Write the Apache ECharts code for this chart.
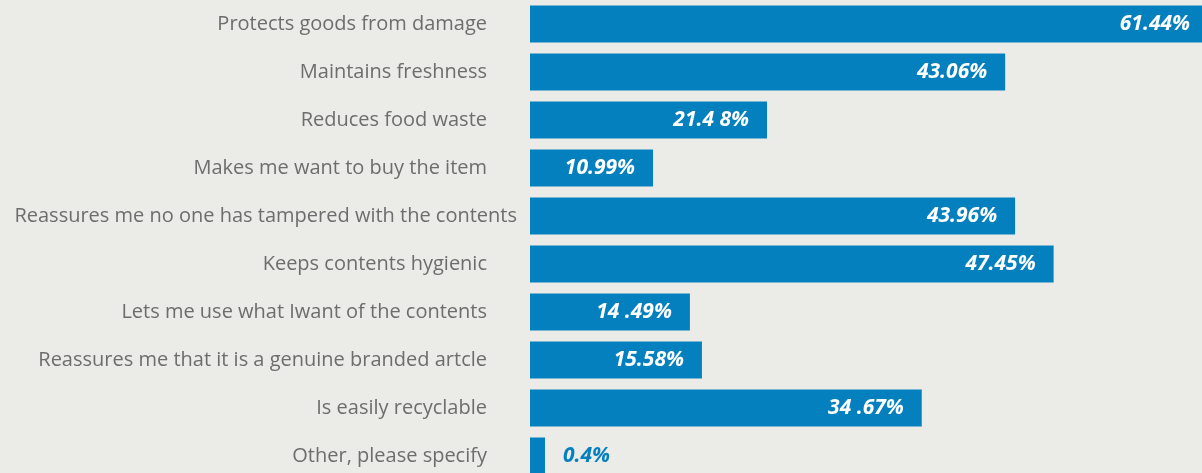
<!DOCTYPE html>
<html>
<head>
<meta charset="utf-8">
<script src="https://cdn.jsdelivr.net/npm/echarts@6/dist/echarts.min.js"></script>
<style>
html, body { margin: 0; padding: 0; background: #ebebe7; }
#chart { width: 1202px; height: 473px; }
</style>
</head>
<body>
<div id="chart"></div>
<script>
// categories, top to bottom
const categories = [
  'Protects goods from damage',
  'Maintains freshness',
  'Reduces food waste',
  'Makes me want to buy the item',
  'Reassures me no one has tampered with the contents',
  'Keeps contents hygienic',
  'Lets me use what Iwant of the contents',
  'Reassures me that it is a genuine branded artcle',
  'Is easily recyclable',
  'Other, please specify'
];
// bar lengths as drawn in the picture
const values = [61.44, 43.06, 21.48, 11.15, 43.96, 47.45, 14.49, 15.58, 35.5, 0.4];
// labels as printed on the chart
const valueLabels = ['61.44%', '43.06%', '21.4 8%', '10.99%', '43.96%', '47.45%', '14 .49%', '15.58%', '34 .67%', '0.4%'];

const BLUE = '#0580bf';
const chart = echarts.init(document.getElementById('chart'));

const catData = categories.map((c, i) => {
  // the long label sticks out past the others in the original
  if (i === 4) return { value: c, textStyle: { padding: [0, 0, 6, 0] } };
  return c;
});

const barData = values.map((v, i) => {
  if (v < 5) {
    return {
      value: v,
      label: { position: 'right', distance: 18, color: BLUE }
    };
  }
  return v;
});

chart.setOption({
  backgroundColor: '#ebebe7',
  animation: false,
  grid: { left: 530, width: 678, top: 0, height: 480, outerBoundsMode: 'none', containLabel: false },
  xAxis: {
    type: 'value',
    min: 0,
    max: 'dataMax',
    show: false
  },
  yAxis: {
    type: 'category',
    inverse: true,
    data: catData,
    axisLine: { show: false },
    axisTick: { show: false },
    axisLabel: {
      margin: 13,
      padding: [0, 30, 6, 0],
      color: '#6d6d6d',
      fontFamily: 'Open Sans',
      fontSize: 20
    }
  },
  series: [{
    type: 'bar',
    data: barData,
    barWidth: 37,
    barMinHeight: 15,
    itemStyle: { color: BLUE },
    label: {
      show: true,
      position: 'insideRight',
      distance: 18,
      color: '#ffffff',
      fontFamily: 'Open Sans',
      fontWeight: 'bold',
      fontStyle: 'italic',
      fontSize: 21,
      formatter: p => valueLabels[p.dataIndex]
    }
  }]
});
</script>
</body>
</html>
